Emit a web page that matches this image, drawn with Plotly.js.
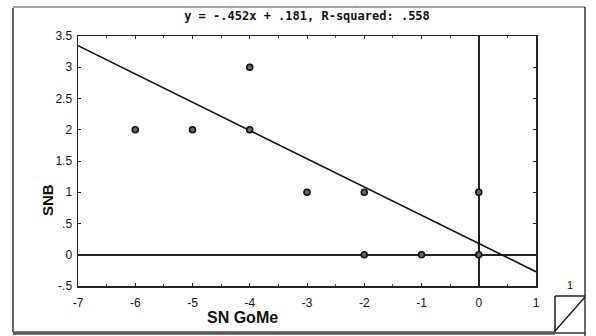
<!DOCTYPE html>
<html>
<head>
<meta charset="utf-8">
<script src="https://cdn.plot.ly/plotly-3.0.1.min.js"></script>
<style>html,body{margin:0;padding:0;background:#fff;}#chart{width:596px;height:336px;}</style>
</head>
<body>
<div id="chart"></div>
<script>
// Data
const snGoMe = [-6, -5, -4, -4, -3, -2, -2, -1, 0, 0];
const snb    = [ 2,  2,  3,  2,  1,  1,  0,  0, 0, 1];
const slope = -0.452;
const intercept = 0.181;
const titleText = 'y = -.452x + .181, R-squared: .558';
const xTickVals = [-7, -6, -5, -4, -3, -2, -1, 0, 1];
const xTickText = ['-7', '-6', '-5', '-4', '-3', '-2', '-1', '0', '1'];
const yTickVals = [-0.5, 0, 0.5, 1, 1.5, 2, 2.5, 3, 3.5];
const yTickText = ['-.5', '0', '.5', '1', '1.5', '2', '2.5', '3', '3.5'];

const xRange = [-7, 1];
const yRange = [-0.5, 3.5];

// layout geometry (pixels)
const W = 596, H = 336;
const M = {l: 78, r: 60, t: 36, b: 50};
const pw = W - M.l - M.r, ph = H - M.t - M.b;
const px = x => (x - M.l) / pw;
const py = y => (H - M.b - y) / ph;

const fitX = xRange.slice();
const fitY = fitX.map(x => slope * x + intercept);

const traces = [
  {x: fitX, y: fitY, mode: 'lines', line: {color: '#111', width: 1.6}, hoverinfo: 'skip'},
  {x: snGoMe, y: snb, mode: 'markers',
   marker: {symbol: 'circle', size: 6, color: '#666', line: {color: '#111', width: 1.6}}}
];

const lineStyle = {color: '#222', width: 1.5};
const shapes = [
  {type: 'line', xref: 'paper', yref: 'paper', x0: px(13), x1: px(13), y0: py(8), y1: py(332), line: {color: '#333', width: 1.5}},
  {type: 'line', xref: 'paper', yref: 'paper', x0: px(13), x1: px(585), y0: py(7), y1: py(7), line: {color: '#444', width: 1.2}},
  {type: 'line', xref: 'paper', yref: 'paper', x0: px(585), x1: px(585), y0: py(7), y1: py(336), line: {color: '#333', width: 1.5}},
  {type: 'line', xref: 'paper', yref: 'paper', x0: px(13), x1: px(555), y0: py(333), y1: py(333), line: {color: '#555', width: 3.5}},
  {type: 'line', xref: 'paper', yref: 'paper', x0: px(555), x1: px(585), y0: py(333), y1: py(333), line: {color: '#333', width: 1.5}},
  // page-curl icon
  {type: 'line', xref: 'paper', yref: 'paper', x0: px(555), x1: px(585), y0: py(296), y1: py(296), line: lineStyle},
  {type: 'line', xref: 'paper', yref: 'paper', x0: px(555), x1: px(555), y0: py(296), y1: py(332), line: lineStyle},
  {type: 'line', xref: 'paper', yref: 'paper', x0: px(555), x1: px(585), y0: py(331), y1: py(297), line: lineStyle}
];

const annotations = [
  {text: 'SNB', xref: 'paper', yref: 'paper', x: px(47), y: py(200), xanchor: 'center', yanchor: 'middle',
   showarrow: false, textangle: -90,
   font: {family: 'Liberation Sans, Arial, sans-serif', size: 15, color: '#111', weight: 'bold'}},
  {text: 'SN GoMe', xref: 'paper', yref: 'paper', x: px(242), y: py(317), xanchor: 'center', yanchor: 'middle',
   showarrow: false,
   font: {family: 'Liberation Sans, Arial, sans-serif', size: 16, color: '#111', weight: 'bold'}},
  {text: '1', xref: 'paper', yref: 'paper', x: px(570), y: py(285), xanchor: 'center', yanchor: 'middle',
   showarrow: false,
   font: {family: 'Liberation Sans, Arial, sans-serif', size: 11, color: '#111'}}
];

const tickFont = {family: 'Liberation Sans, Arial, sans-serif', size: 12, color: '#111'};

const layout = {
  width: W, height: H,
  margin: M,
  paper_bgcolor: '#fff', plot_bgcolor: '#fff',
  showlegend: false,
  title: {text: titleText, x: 0.5, xref: 'paper', xanchor: 'center', y: 1 - 16 / H, yanchor: 'middle',
          font: {family: 'DejaVu Sans Mono, monospace', size: 12, color: '#111', weight: 'bold'}},
  xaxis: {
    range: xRange, tickvals: xTickVals, ticktext: xTickText,
    showgrid: false, zeroline: true, zerolinecolor: '#222', zerolinewidth: 1.5,
    showline: true, linecolor: '#222', linewidth: 1.5, mirror: 'ticks',
    ticks: 'inside', ticklen: 3, tickcolor: '#222', tickwidth: 1,
    minor: {dtick: 0.5, ticks: 'inside', ticklen: 2, tickcolor: '#444', showgrid: false},
    tickfont: tickFont, ticklabelstandoff: 5, fixedrange: true
  },
  yaxis: {
    range: yRange, tickvals: yTickVals, ticktext: yTickText,
    showgrid: false, zeroline: true, zerolinecolor: '#222', zerolinewidth: 1.5,
    showline: true, linecolor: '#222', linewidth: 1.5, mirror: 'ticks',
    ticks: 'inside', ticklen: 3, tickcolor: '#222', tickwidth: 1,
    tickfont: tickFont, ticklabelstandoff: 2, fixedrange: true
  },
  shapes: shapes,
  annotations: annotations
};

Plotly.newPlot('chart', traces, layout, {displayModeBar: false, staticPlot: true});
</script>
</body>
</html>
